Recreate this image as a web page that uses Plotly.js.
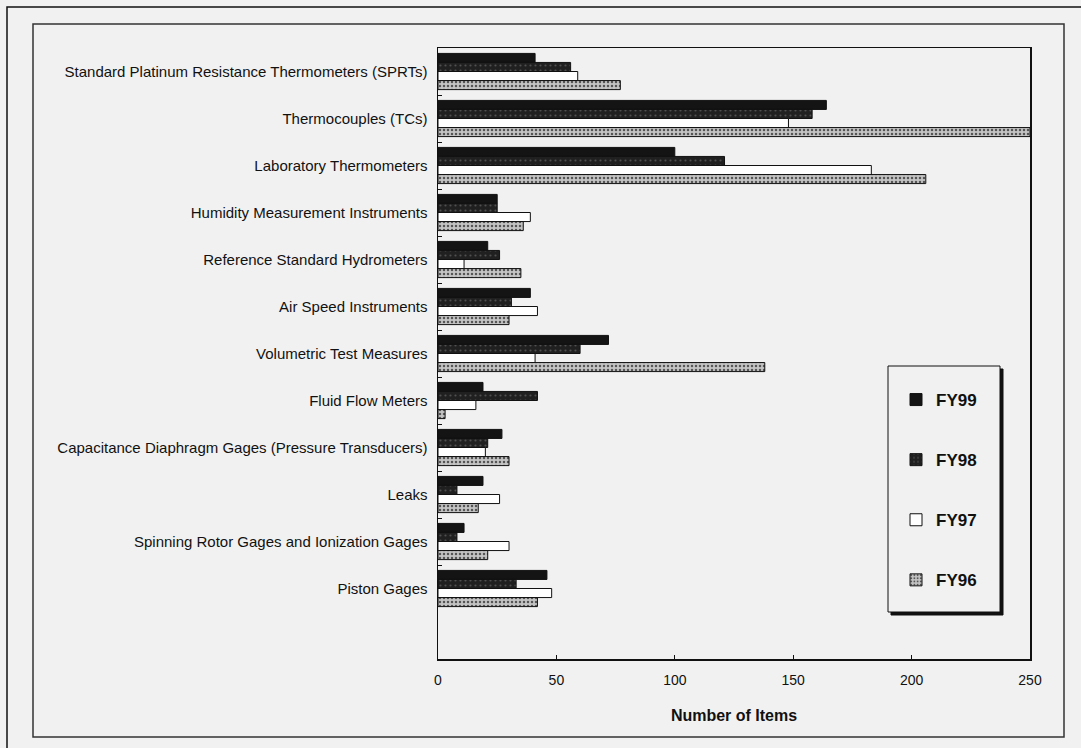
<!DOCTYPE html>
<html>
<head>
<meta charset="utf-8">
<script src="https://cdn.plot.ly/plotly-3.0.1.min.js"></script>
<style>
  html, body { margin: 0; padding: 0; background: #f1f1f1; }
  #chart { width: 1081px; height: 748px; }
</style>
</head>
<body>
<div id="chart"></div>
<script>
// Calibration workload by instrument type, fiscal years 1996-1999
const categories = [
  "Standard Platinum Resistance Thermometers (SPRTs)",
  "Thermocouples (TCs)",
  "Laboratory Thermometers",
  "Humidity Measurement Instruments",
  "Reference Standard Hydrometers",
  "Air Speed Instruments",
  "Volumetric Test Measures",
  "Fluid Flow Meters",
  "Capacitance Diaphragm Gages (Pressure Transducers)",
  "Leaks",
  "Spinning Rotor Gages and Ionization Gages",
  "Piston Gages"
];

const fy99 = [41, 164, 100, 25, 21, 39, 72, 19, 27, 19, 11, 46];
const fy98 = [56, 158, 121, 25, 26, 31, 60, 42, 21, 8, 8, 33];
const fy97 = [59, 148, 183, 39, 11, 42, 41, 16, 20, 26, 30, 48];
const fy96 = [77, 250, 206, 36, 35, 30, 138, 3, 30, 17, 21, 42];

const xTicks = [0, 50, 100, 150, 200, 250];

const bg = "#f1f1f1";
const ink = "#111111";

// Plot area in pixels, used to place the frame decorations
const W = 1081, H = 748;
const M = { l: 438, r: W - 1030, t: 48, b: H - 659 };
const pw = W - M.l - M.r, ph = H - M.t - M.b;
const px = v => (v - M.l) / pw;
const py = v => (H - M.b - v) / ph;

function barTrace(name, values, marker) {
  return {
    type: "bar",
    orientation: "h",
    name: name,
    y: categories,
    x: values,
    legendgroup: name,
    marker: Object.assign({ line: { color: ink, width: 1 } }, marker),
    hoverinfo: "x+name"
  };
}

const traces = [
  barTrace("FY99", fy99, { color: "#141414" }),
  barTrace("FY98", fy98, { color: "#202020",
    pattern: { shape: ".", fgcolor: "#505050", bgcolor: "#202020", size: 5, solidity: 0.15 } }),
  barTrace("FY97", fy97, { color: "#ffffff" }),
  barTrace("FY96", fy96, { color: "#c4c4c4",
    pattern: { shape: ".", fgcolor: "#555555", bgcolor: "#c4c4c4", size: 4, solidity: 0.3 } })
];

function rect(x0, y0, x1, y1, line, fill) {
  return {
    type: "rect", xref: "paper", yref: "paper", layer: "above",
    x0: px(x0), x1: px(x1), y0: py(y0), y1: py(y1),
    line: line, fillcolor: fill || "rgba(0,0,0,0)"
  };
}

const shapes = [
  rect(7, 7, 1100, 770, { color: ink, width: 1.5 }),
  rect(33, 24, 1064, 737, { color: "#333333", width: 1.5 }),
  rect(891, 369, 1003, 615, { color: ink, width: 1 }, ink),
  rect(888, 366, 1000, 612, { color: ink, width: 1 }, bg)
];

const layout = {
  width: W,
  height: H,
  margin: M,
  paper_bgcolor: bg,
  plot_bgcolor: bg,
  font: { family: "Liberation Sans, Arial, sans-serif", color: ink },
  barmode: "group",
  bargap: 0.23,
  bargroupgap: 0,
  showlegend: true,
  legend: {
    x: px(896), xanchor: "left",
    y: py(382), yanchor: "top",
    bgcolor: "rgba(0,0,0,0)",
    borderwidth: 0,
    traceorder: "grouped",
    tracegroupgap: 35,
    itemwidth: 30,
    font: { size: 17, color: ink, family: "Liberation Sans, Arial, sans-serif", weight: "bold" }
  },
  xaxis: {
    range: [0, 250],
    tickmode: "array",
    tickvals: xTicks,
    ticktext: xTicks.map(String),
    ticks: "inside",
    ticklen: 4,
    tickcolor: ink,
    showgrid: false,
    zeroline: false,
    showline: true,
    mirror: true,
    linecolor: ink,
    linewidth: 1.5,
    tickfont: { size: 14, color: ink },
    ticklabelstandoff: 8,
    title: {
      text: "Number of Items",
      font: { size: 16, color: ink, weight: "bold" },
      standoff: 22
    },
    fixedrange: true
  },
  yaxis: {
    type: "category",
    categoryorder: "array",
    categoryarray: categories,
    range: [12.5, -0.5],
    tickson: "boundaries",
    ticks: "inside",
    ticklen: 4,
    tickcolor: ink,
    showgrid: false,
    zeroline: false,
    showline: true,
    mirror: true,
    linecolor: ink,
    linewidth: 1.5,
    tickfont: { size: 15, color: ink },
    ticklabelstandoff: 6,
    fixedrange: true
  },
  shapes: shapes
};

Plotly.newPlot("chart", traces, layout, { displayModeBar: false, staticPlot: true });
</script>
</body>
</html>
